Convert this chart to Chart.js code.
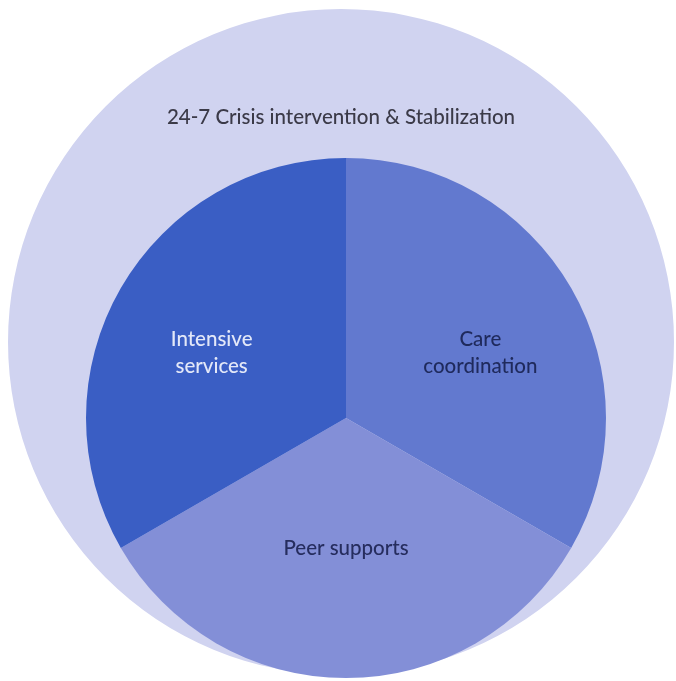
<!DOCTYPE html>
<html>
<head>
<meta charset="utf-8">
<script src="https://cdn.jsdelivr.net/npm/chart.js@4"></script>
<style>
  html, body { margin: 0; padding: 0; background: #ffffff; }
  #wrap { position: relative; width: 676px; height: 681px; overflow: hidden; }
  #outerBox { position: absolute; left: 8px; top: 9px; width: 666px; height: 666px; }
  #innerBox { position: absolute; left: 86px; top: 158px; width: 520px; height: 520px; }
</style>
</head>
<body>
<div id="wrap">
  <div id="outerBox"><canvas id="outerChart"></canvas></div>
  <div id="innerBox"><canvas id="innerChart"></canvas></div>
</div>
<script>
// outer ring = the 24-7 layer
const outerLabels = ['24-7 Crisis intervention & Stabilization'];
const outerValues = [1];
const outerColors = ['#d0d3f0'];

// inner pie, clockwise from the top
const innerLabels = [['Care', 'coordination'], ['Peer supports'], ['Intensive', 'services']];
const innerValues = [1, 1, 1];
const innerColors = ['#6279cf', '#838fd7', '#3a5ec4'];
const innerTextColors = ['#1f2a5c', '#262d5e', '#e3e8f8'];

// draws the text of each slice at a fraction of the radius along its middle angle
const sliceLabels = {
  id: 'sliceLabels',
  afterDatasetsDraw(chart, args, opts) {
    const ctx = chart.ctx;
    const meta = chart.getDatasetMeta(0);
    const labels = chart.data.labels;
    ctx.save();
    ctx.font = opts.font;
    ctx.textAlign = 'center';
    ctx.textBaseline = 'middle';
    meta.data.forEach((arc, i) => {
      const p = arc.getProps(['x', 'y', 'startAngle', 'endAngle', 'outerRadius'], true);
      const mid = (p.startAngle + p.endAngle) / 2 + (opts.angleShift[i] || 0) * Math.PI / 180;
      const r = p.outerRadius * opts.radius[i];
      const cx = p.x + Math.cos(mid) * r;
      const cy = p.y + Math.sin(mid) * r;
      const lines = [].concat(labels[i]);
      ctx.fillStyle = opts.colors[i];
      lines.forEach((line, j) => {
        ctx.fillText(line, cx, cy + (j - (lines.length - 1) / 2) * opts.lineHeight);
      });
    });
    ctx.restore();
  }
};

new Chart(document.getElementById('outerChart'), {
  type: 'pie',
  data: {
    labels: outerLabels,
    datasets: [{ data: outerValues, backgroundColor: outerColors, borderWidth: 0 }]
  },
  options: {
    responsive: true,
    maintainAspectRatio: false,
    animation: false,
    rotation: 180,
    layout: { padding: 0 },
    plugins: {
      legend: { display: false },
      tooltip: { enabled: false },
      sliceLabels: {
        font: '500 20.5px Lato',
        lineHeight: 27,
        radius: [0.676],
        angleShift: [0],
        colors: ['#3b3a48']
      }
    }
  },
  plugins: [sliceLabels]
});

new Chart(document.getElementById('innerChart'), {
  type: 'pie',
  data: {
    labels: innerLabels,
    datasets: [{ data: innerValues, backgroundColor: innerColors, borderWidth: 0 }]
  },
  options: {
    responsive: true,
    maintainAspectRatio: false,
    animation: false,
    layout: { padding: 0 },
    plugins: {
      legend: { display: false },
      tooltip: { enabled: false },
      sliceLabels: {
        font: '500 20.5px Lato',
        lineHeight: 27,
        radius: [0.575, 0.5, 0.575],
        angleShift: [4, 0, -4],
        colors: innerTextColors
      }
    }
  },
  plugins: [sliceLabels]
});
</script>
</body>
</html>
